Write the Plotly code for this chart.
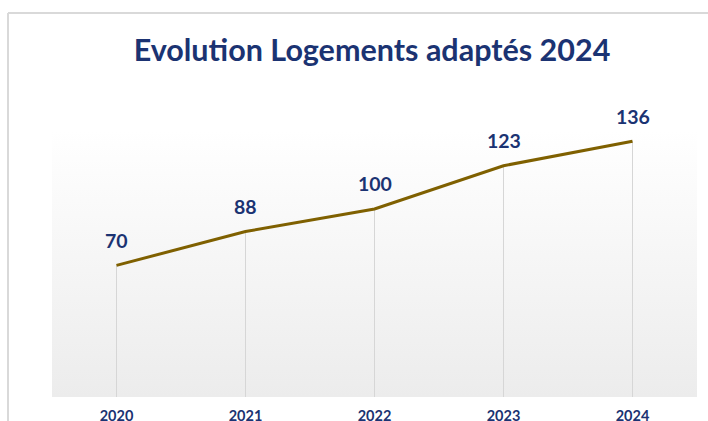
import plotly.graph_objects as go

years = ["2020", "2021", "2022", "2023", "2024"]
values = [70, 88, 100, 123, 136]

title_text = "Evolution Logements adaptés 2024"
navy = "#1b3372"
line_color = "#7f6000"
font_family = "Lato, 'Open Sans', Arial, sans-serif"

idx = list(range(len(years)))
y_top = 142

fig = go.Figure()

# gradient plot-area background
fig.add_trace(go.Scatter(
    x=[-0.5, 4.5, 4.5, -0.5, -0.5], y=[0, 0, y_top, y_top, 0],
    mode="lines", line=dict(width=0), fill="toself",
    fillgradient=dict(type="vertical", colorscale=[[0, "#ececec"], [1, "#ffffff"]]),
    hoverinfo="skip", showlegend=False,
))

# drop lines
dx, dy = [], []
for i, v in zip(idx, values):
    dx += [i, i, None]
    dy += [0, v, None]
fig.add_trace(go.Scatter(x=dx, y=dy, mode="lines",
                         line=dict(color="#d6d6d6", width=1),
                         hoverinfo="skip", showlegend=False))

# main line
fig.add_trace(go.Scatter(x=idx, y=values, mode="lines",
                         line=dict(color=line_color, width=3),
                         showlegend=False))

for i, v in zip(idx, values):
    fig.add_annotation(x=i, y=v, text=f"<b>{v}</b>", showarrow=False,
                       yshift=25, yanchor="middle",
                       font=dict(size=19.5, color=navy, family=font_family))

fig.update_layout(
    width=708, height=421,
    margin=dict(l=52, r=11, t=130, b=24),
    paper_bgcolor="white", plot_bgcolor="rgba(0,0,0,0)",
    title=dict(text=f"<b>{title_text}</b>", x=372/708, xanchor="center",
               y=1 - 50/421, yanchor="middle",
               font=dict(size=30.5, color=navy, family=font_family)),
    xaxis=dict(range=[-0.5, 4.5], tickvals=idx, ticktext=[f"<b>{y}</b>" for y in years],
               showgrid=False, zeroline=False, showline=False, ticks="",
               ticklabelstandoff=8, automargin=False,
               tickfont=dict(size=14.5, color=navy, family=font_family)),
    yaxis=dict(range=[0, y_top], visible=False, automargin=False),
    shapes=[
        dict(type="line", xref="paper", yref="paper",
             x0=(8-52)/645, x1=(8-52)/645, y0=(397-13)/267, y1=-0.2,
             line=dict(color="#d9d9d9", width=2)),
        dict(type="line", xref="paper", yref="paper",
             x0=(8-52)/645, x1=(708-52)/645, y0=(397-13)/267, y1=(397-13)/267,
             line=dict(color="#d9d9d9", width=2)),
    ],
)

fig.write_html("out.html", config={"displayModeBar": False},
               post_script="document.body.style.margin='0';document.body.style.overflow='hidden';")
